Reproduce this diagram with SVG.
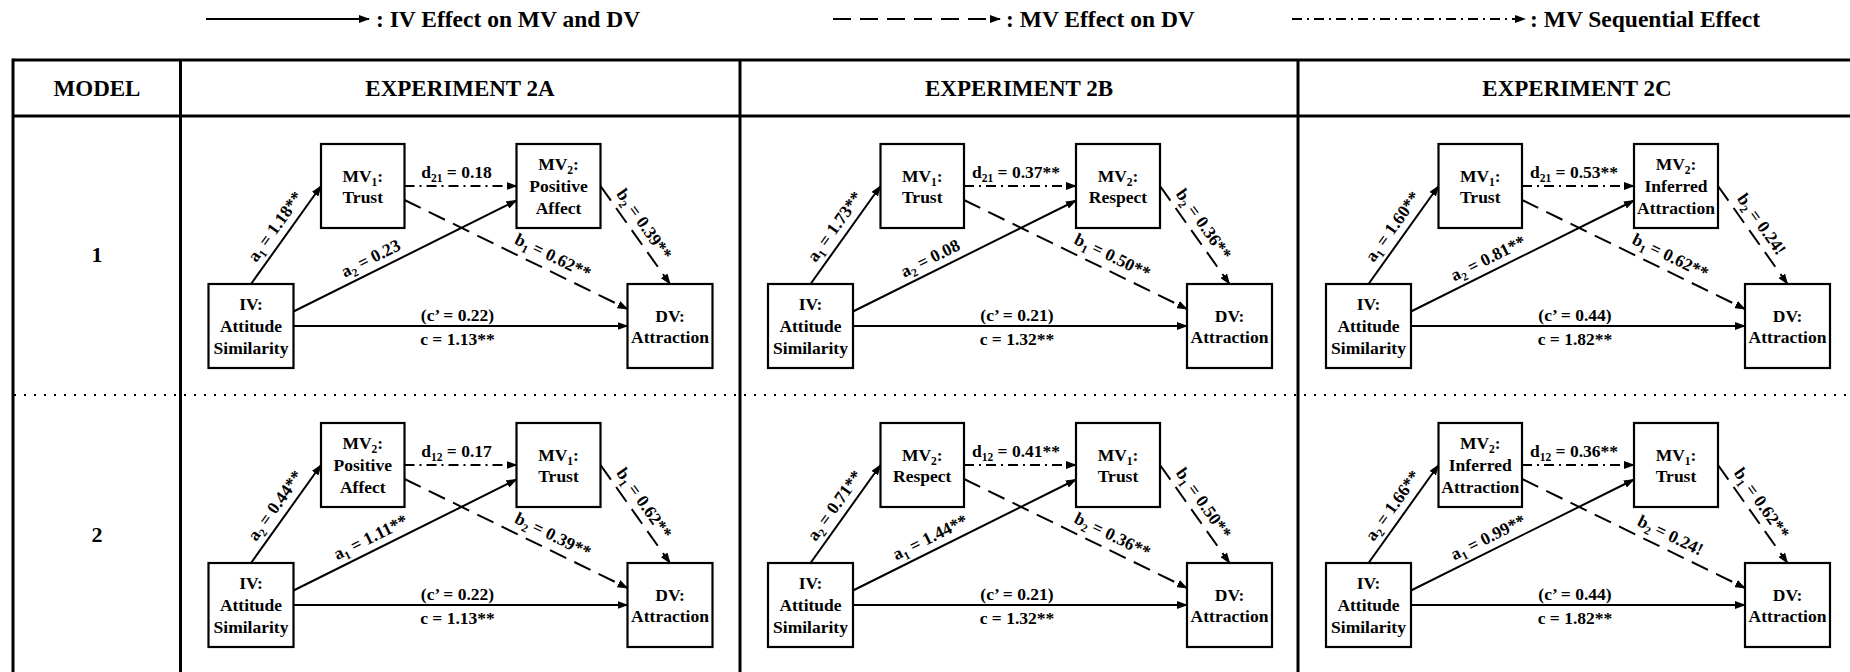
<svg xmlns="http://www.w3.org/2000/svg" width="1850" height="672" viewBox="0 0 1850 672">
<style>
.t{font-family:"Liberation Serif","Times New Roman",serif;font-weight:bold;fill:#000;font-size:17.5px}
.c{text-anchor:middle}
.hd{font-size:23px}
.lg{font-size:23.5px}
.sb{font-size:11.5px}
.box{fill:#fff;stroke:#000;stroke-width:2.2}
.ln{stroke:#000;stroke-width:2;fill:none;marker-end:url(#ah)}
.dash{stroke-dasharray:18 9}
.dd{stroke-dasharray:10 5 2 5}
.tb{stroke:#000;stroke-width:3;fill:none}
.dot{stroke:#000;stroke-width:2;stroke-dasharray:2 8;fill:none}
</style>
<defs>
<marker id="ah" viewBox="0 0 11 8" refX="10" refY="4" markerWidth="11" markerHeight="8" markerUnits="userSpaceOnUse" orient="auto"><path d="M0,0 L11,4 L0,8 z" fill="#000"/></marker>
</defs>
<rect width="1850" height="672" fill="#fff"/>
<g id="legend">
<line class="ln" x1="206" y1="19" x2="369" y2="19"/>
<text class="t lg" x="376" y="27">: IV Effect on MV and DV</text>
<line class="ln dash" x1="833" y1="19" x2="1000" y2="19"/>
<text class="t lg" x="1006" y="27">: MV Effect on DV</text>
<line class="ln dd" x1="1292" y1="19" x2="1525" y2="19"/>
<text class="t lg" x="1530" y="27">: MV Sequential Effect</text>
</g>
<g id="table">
<line class="tb" x1="13" y1="60" x2="1850" y2="60"/>
<line class="tb" x1="13" y1="116" x2="1850" y2="116"/>
<line class="tb" x1="13" y1="58.5" x2="13" y2="672"/>
<line class="tb" x1="180.5" y1="60" x2="180.5" y2="672"/>
<line class="tb" x1="740" y1="60" x2="740" y2="672"/>
<line class="tb" x1="1298" y1="60" x2="1298" y2="672"/>
<line class="dot" x1="14" y1="395" x2="1850" y2="395"/>
<text class="t hd c" x="97" y="96">MODEL</text>
<text class="t hd c" x="460" y="96">EXPERIMENT 2A</text>
<text class="t hd c" x="1019" y="96">EXPERIMENT 2B</text>
<text class="t hd c" x="1577" y="96">EXPERIMENT 2C</text>
<text class="t c" style="font-size:22px" x="97" y="262">1</text>
<text class="t c" style="font-size:22px" x="97" y="542">2</text>
</g>

<!-- Row 1, 2A -->
<g id="p1a" transform="translate(180.5,116)">
<g id="p1a-edges">
<path class="ln" d="M70.5,168 L140.5,70"/>
<path class="ln dd" d="M224,70 L336,70"/>
<path class="ln" d="M113,195.5 L336,84.5"/>
<path class="ln dash" d="M224,84 L447,193"/>
<path class="ln dash" d="M420,70 L489.5,168"/>
<path class="ln" d="M113,210 L447,210"/>
<text class="t c" transform="translate(99.4,114) rotate(-54.5)">a<tspan class="sb" dy="4">1</tspan><tspan dy="-4"> = 1.18**</tspan></text>
<text class="t c" transform="translate(192.7,147.4) rotate(-26.5)">a<tspan class="sb" dy="4">2</tspan><tspan dy="-4"> = 0.23</tspan></text>
<text class="t c" transform="translate(369.9,145.4) rotate(26)">b<tspan class="sb" dy="4">1</tspan><tspan dy="-4"> = 0.62**</tspan></text>
<text class="t c" transform="translate(459,111.5) rotate(54.7)">b<tspan class="sb" dy="4">2</tspan><tspan dy="-4"> = 0.39**</tspan></text>
<text class="t c" x="276" y="62">d<tspan class="sb" dy="4">21</tspan><tspan dy="-4"> = 0.18</tspan></text>
<text class="t c" x="277" y="204.5">(c’ = 0.22)</text>
<text class="t c" x="277" y="229">c = 1.13**</text>
</g>
<g id="p1a-IV"><rect class="box" x="28" y="168" width="85" height="84"/><text class="t c" x="70.5" y="193.5">IV:</text><text class="t c" x="70.5" y="215.5">Attitude</text><text class="t c" x="70.5" y="237.5">Similarity</text></g>
<g id="p1a-MV1"><rect class="box" x="140.5" y="28" width="83.5" height="84"/><text class="t c" x="182.25" y="65.5">MV<tspan class="sb" dy="4">1</tspan><tspan dy="-4">:</tspan></text><text class="t c" x="182.25" y="86.5">Trust</text></g>
<g id="p1a-MV2"><rect class="box" x="336" y="28" width="84" height="84"/><text class="t c" x="378" y="53.5">MV<tspan class="sb" dy="4">2</tspan><tspan dy="-4">:</tspan></text><text class="t c" x="378" y="75.5">Positive</text><text class="t c" x="378" y="97.5">Affect</text></g>
<g id="p1a-DV"><rect class="box" x="447" y="168" width="85" height="84"/><text class="t c" x="489.5" y="205.5">DV:</text><text class="t c" x="489.5" y="226.5">Attraction</text></g>
</g>

<!-- Row 1, 2B -->
<g id="p1b" transform="translate(740,116)">
<g id="p1b-edges">
<path class="ln" d="M70.5,168 L140.5,70"/>
<path class="ln dd" d="M224,70 L336,70"/>
<path class="ln" d="M113,195.5 L336,84.5"/>
<path class="ln dash" d="M224,84 L447,193"/>
<path class="ln dash" d="M420,70 L489.5,168"/>
<path class="ln" d="M113,210 L447,210"/>
<text class="t c" transform="translate(99.4,114) rotate(-54.5)">a<tspan class="sb" dy="4">1</tspan><tspan dy="-4"> = 1.73**</tspan></text>
<text class="t c" transform="translate(192.7,147.4) rotate(-26.5)">a<tspan class="sb" dy="4">2</tspan><tspan dy="-4"> = 0.08</tspan></text>
<text class="t c" transform="translate(369.9,145.4) rotate(26)">b<tspan class="sb" dy="4">1</tspan><tspan dy="-4"> = 0.50**</tspan></text>
<text class="t c" transform="translate(459,111.5) rotate(54.7)">b<tspan class="sb" dy="4">2</tspan><tspan dy="-4"> = 0.36**</tspan></text>
<text class="t c" x="276" y="62">d<tspan class="sb" dy="4">21</tspan><tspan dy="-4"> = 0.37**</tspan></text>
<text class="t c" x="277" y="204.5">(c’ = 0.21)</text>
<text class="t c" x="277" y="229">c = 1.32**</text>
</g>
<g id="p1b-IV"><rect class="box" x="28" y="168" width="85" height="84"/><text class="t c" x="70.5" y="193.5">IV:</text><text class="t c" x="70.5" y="215.5">Attitude</text><text class="t c" x="70.5" y="237.5">Similarity</text></g>
<g id="p1b-MV1"><rect class="box" x="140.5" y="28" width="83.5" height="84"/><text class="t c" x="182.25" y="65.5">MV<tspan class="sb" dy="4">1</tspan><tspan dy="-4">:</tspan></text><text class="t c" x="182.25" y="86.5">Trust</text></g>
<g id="p1b-MV2"><rect class="box" x="336" y="28" width="84" height="84"/><text class="t c" x="378" y="65.5">MV<tspan class="sb" dy="4">2</tspan><tspan dy="-4">:</tspan></text><text class="t c" x="378" y="86.5">Respect</text></g>
<g id="p1b-DV"><rect class="box" x="447" y="168" width="85" height="84"/><text class="t c" x="489.5" y="205.5">DV:</text><text class="t c" x="489.5" y="226.5">Attraction</text></g>
</g>

<!-- Row 1, 2C -->
<g id="p1c" transform="translate(1298,116)">
<g id="p1c-edges">
<path class="ln" d="M70.5,168 L140.5,70"/>
<path class="ln dd" d="M224,70 L336,70"/>
<path class="ln" d="M113,195.5 L336,84.5"/>
<path class="ln dash" d="M224,84 L447,193"/>
<path class="ln dash" d="M420,70 L489.5,168"/>
<path class="ln" d="M113,210 L447,210"/>
<text class="t c" transform="translate(99.4,114) rotate(-54.5)">a<tspan class="sb" dy="4">1</tspan><tspan dy="-4"> = 1.60**</tspan></text>
<text class="t c" transform="translate(192.7,147.4) rotate(-26.5)">a<tspan class="sb" dy="4">2</tspan><tspan dy="-4"> = 0.81**</tspan></text>
<text class="t c" transform="translate(369.9,145.4) rotate(26)">b<tspan class="sb" dy="4">1</tspan><tspan dy="-4"> = 0.62**</tspan></text>
<text class="t c" transform="translate(459,111.5) rotate(54.7)">b<tspan class="sb" dy="4">2</tspan><tspan dy="-4"> = 0.24!</tspan></text>
<text class="t c" x="276" y="62">d<tspan class="sb" dy="4">21</tspan><tspan dy="-4"> = 0.53**</tspan></text>
<text class="t c" x="277" y="204.5">(c’ = 0.44)</text>
<text class="t c" x="277" y="229">c = 1.82**</text>
</g>
<g id="p1c-IV"><rect class="box" x="28" y="168" width="85" height="84"/><text class="t c" x="70.5" y="193.5">IV:</text><text class="t c" x="70.5" y="215.5">Attitude</text><text class="t c" x="70.5" y="237.5">Similarity</text></g>
<g id="p1c-MV1"><rect class="box" x="140.5" y="28" width="83.5" height="84"/><text class="t c" x="182.25" y="65.5">MV<tspan class="sb" dy="4">1</tspan><tspan dy="-4">:</tspan></text><text class="t c" x="182.25" y="86.5">Trust</text></g>
<g id="p1c-MV2"><rect class="box" x="336" y="28" width="84" height="84"/><text class="t c" x="378" y="53.5">MV<tspan class="sb" dy="4">2</tspan><tspan dy="-4">:</tspan></text><text class="t c" x="378" y="75.5">Inferred</text><text class="t c" x="378" y="97.5">Attraction</text></g>
<g id="p1c-DV"><rect class="box" x="447" y="168" width="85" height="84"/><text class="t c" x="489.5" y="205.5">DV:</text><text class="t c" x="489.5" y="226.5">Attraction</text></g>
</g>

<!-- Row 2, 2A -->
<g id="p2a" transform="translate(180.5,395)">
<g id="p2a-edges">
<path class="ln" d="M70.5,168 L140.5,70"/>
<path class="ln dd" d="M224,70 L336,70"/>
<path class="ln" d="M113,195.5 L336,84.5"/>
<path class="ln dash" d="M224,84 L447,193"/>
<path class="ln dash" d="M420,70 L489.5,168"/>
<path class="ln" d="M113,210 L447,210"/>
<text class="t c" transform="translate(99.4,114) rotate(-54.5)">a<tspan class="sb" dy="4">2</tspan><tspan dy="-4"> = 0.44**</tspan></text>
<text class="t c" transform="translate(192.7,147.4) rotate(-26.5)">a<tspan class="sb" dy="4">1</tspan><tspan dy="-4"> = 1.11**</tspan></text>
<text class="t c" transform="translate(369.9,145.4) rotate(26)">b<tspan class="sb" dy="4">2</tspan><tspan dy="-4"> = 0.39**</tspan></text>
<text class="t c" transform="translate(459,111.5) rotate(54.7)">b<tspan class="sb" dy="4">1</tspan><tspan dy="-4"> = 0.62**</tspan></text>
<text class="t c" x="276" y="62">d<tspan class="sb" dy="4">12</tspan><tspan dy="-4"> = 0.17</tspan></text>
<text class="t c" x="277" y="204.5">(c’ = 0.22)</text>
<text class="t c" x="277" y="229">c = 1.13**</text>
</g>
<g id="p2a-IV"><rect class="box" x="28" y="168" width="85" height="84"/><text class="t c" x="70.5" y="193.5">IV:</text><text class="t c" x="70.5" y="215.5">Attitude</text><text class="t c" x="70.5" y="237.5">Similarity</text></g>
<g id="p2a-MV2"><rect class="box" x="140.5" y="28" width="83.5" height="84"/><text class="t c" x="182.25" y="53.5">MV<tspan class="sb" dy="4">2</tspan><tspan dy="-4">:</tspan></text><text class="t c" x="182.25" y="75.5">Positive</text><text class="t c" x="182.25" y="97.5">Affect</text></g>
<g id="p2a-MV1"><rect class="box" x="336" y="28" width="84" height="84"/><text class="t c" x="378" y="65.5">MV<tspan class="sb" dy="4">1</tspan><tspan dy="-4">:</tspan></text><text class="t c" x="378" y="86.5">Trust</text></g>
<g id="p2a-DV"><rect class="box" x="447" y="168" width="85" height="84"/><text class="t c" x="489.5" y="205.5">DV:</text><text class="t c" x="489.5" y="226.5">Attraction</text></g>
</g>

<!-- Row 2, 2B -->
<g id="p2b" transform="translate(740,395)">
<g id="p2b-edges">
<path class="ln" d="M70.5,168 L140.5,70"/>
<path class="ln dd" d="M224,70 L336,70"/>
<path class="ln" d="M113,195.5 L336,84.5"/>
<path class="ln dash" d="M224,84 L447,193"/>
<path class="ln dash" d="M420,70 L489.5,168"/>
<path class="ln" d="M113,210 L447,210"/>
<text class="t c" transform="translate(99.4,114) rotate(-54.5)">a<tspan class="sb" dy="4">2</tspan><tspan dy="-4"> = 0.71**</tspan></text>
<text class="t c" transform="translate(192.7,147.4) rotate(-26.5)">a<tspan class="sb" dy="4">1</tspan><tspan dy="-4"> = 1.44**</tspan></text>
<text class="t c" transform="translate(369.9,145.4) rotate(26)">b<tspan class="sb" dy="4">2</tspan><tspan dy="-4"> = 0.36**</tspan></text>
<text class="t c" transform="translate(459,111.5) rotate(54.7)">b<tspan class="sb" dy="4">1</tspan><tspan dy="-4"> = 0.50**</tspan></text>
<text class="t c" x="276" y="62">d<tspan class="sb" dy="4">12</tspan><tspan dy="-4"> = 0.41**</tspan></text>
<text class="t c" x="277" y="204.5">(c’ = 0.21)</text>
<text class="t c" x="277" y="229">c = 1.32**</text>
</g>
<g id="p2b-IV"><rect class="box" x="28" y="168" width="85" height="84"/><text class="t c" x="70.5" y="193.5">IV:</text><text class="t c" x="70.5" y="215.5">Attitude</text><text class="t c" x="70.5" y="237.5">Similarity</text></g>
<g id="p2b-MV2"><rect class="box" x="140.5" y="28" width="83.5" height="84"/><text class="t c" x="182.25" y="65.5">MV<tspan class="sb" dy="4">2</tspan><tspan dy="-4">:</tspan></text><text class="t c" x="182.25" y="86.5">Respect</text></g>
<g id="p2b-MV1"><rect class="box" x="336" y="28" width="84" height="84"/><text class="t c" x="378" y="65.5">MV<tspan class="sb" dy="4">1</tspan><tspan dy="-4">:</tspan></text><text class="t c" x="378" y="86.5">Trust</text></g>
<g id="p2b-DV"><rect class="box" x="447" y="168" width="85" height="84"/><text class="t c" x="489.5" y="205.5">DV:</text><text class="t c" x="489.5" y="226.5">Attraction</text></g>
</g>

<!-- Row 2, 2C -->
<g id="p2c" transform="translate(1298,395)">
<g id="p2c-edges">
<path class="ln" d="M70.5,168 L140.5,70"/>
<path class="ln dd" d="M224,70 L336,70"/>
<path class="ln" d="M113,195.5 L336,84.5"/>
<path class="ln dash" d="M224,84 L447,193"/>
<path class="ln dash" d="M420,70 L489.5,168"/>
<path class="ln" d="M113,210 L447,210"/>
<text class="t c" transform="translate(99.4,114) rotate(-54.5)">a<tspan class="sb" dy="4">2</tspan><tspan dy="-4"> = 1.66**</tspan></text>
<text class="t c" transform="translate(192.7,147.4) rotate(-26.5)">a<tspan class="sb" dy="4">1</tspan><tspan dy="-4"> = 0.99**</tspan></text>
<text class="t c" transform="translate(369.9,145.4) rotate(26)">b<tspan class="sb" dy="4">2</tspan><tspan dy="-4"> = 0.24!</tspan></text>
<text class="t c" transform="translate(459,111.5) rotate(54.7)">b<tspan class="sb" dy="4">1</tspan><tspan dy="-4"> = 0.62**</tspan></text>
<text class="t c" x="276" y="62">d<tspan class="sb" dy="4">12</tspan><tspan dy="-4"> = 0.36**</tspan></text>
<text class="t c" x="277" y="204.5">(c’ = 0.44)</text>
<text class="t c" x="277" y="229">c = 1.82**</text>
</g>
<g id="p2c-IV"><rect class="box" x="28" y="168" width="85" height="84"/><text class="t c" x="70.5" y="193.5">IV:</text><text class="t c" x="70.5" y="215.5">Attitude</text><text class="t c" x="70.5" y="237.5">Similarity</text></g>
<g id="p2c-MV2"><rect class="box" x="140.5" y="28" width="83.5" height="84"/><text class="t c" x="182.25" y="53.5">MV<tspan class="sb" dy="4">2</tspan><tspan dy="-4">:</tspan></text><text class="t c" x="182.25" y="75.5">Inferred</text><text class="t c" x="182.25" y="97.5">Attraction</text></g>
<g id="p2c-MV1"><rect class="box" x="336" y="28" width="84" height="84"/><text class="t c" x="378" y="65.5">MV<tspan class="sb" dy="4">1</tspan><tspan dy="-4">:</tspan></text><text class="t c" x="378" y="86.5">Trust</text></g>
<g id="p2c-DV"><rect class="box" x="447" y="168" width="85" height="84"/><text class="t c" x="489.5" y="205.5">DV:</text><text class="t c" x="489.5" y="226.5">Attraction</text></g>
</g>
</svg>
